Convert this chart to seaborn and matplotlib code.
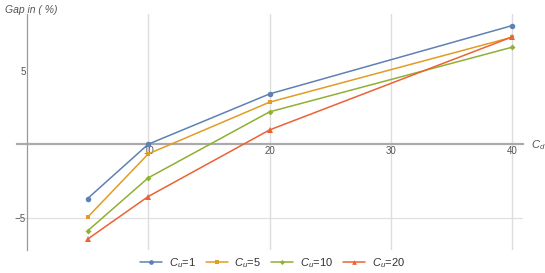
import matplotlib
matplotlib.use("Agg")
import matplotlib.pyplot as plt
import seaborn as sns
import pandas as pd

# Data
cd_values = [5, 10, 20, 40]
gap_cu1 = [-3.7, 0.0, 3.42, 8.07]
gap_cu5 = [-4.97, -0.66, 2.86, 7.28]
gap_cu10 = [-5.9, -2.29, 2.2, 6.6]
gap_cu20 = [-6.46, -3.56, 0.97, 7.3]
series_labels = ["$C_u$=1", "$C_u$=5", "$C_u$=10", "$C_u$=20"]
x_ticks = [10, 20, 30, 40]
y_ticks = [-5, 5]

series_values = [gap_cu1, gap_cu5, gap_cu10, gap_cu20]

sns.set_theme(style="white")
plt.rcParams["font.family"] = ["Liberation Sans", "DejaVu Sans"]
plt.rcParams["mathtext.fontset"] = "custom"
plt.rcParams["mathtext.it"] = "Liberation Sans:italic"
plt.rcParams["mathtext.rm"] = "Liberation Sans"

colors = ["#5E81B5", "#E19C24", "#8FB032", "#EB6235"]
markers = ["o", "s", "D", "^"]
msizes = [4.0, 3.4, 3.0, 4.0]

fig = plt.figure(figsize=(5.45, 2.73), dpi=100)
ax = fig.add_axes([17 / 545, 23 / 273, 506 / 545, 236 / 273])

for lab, vals, c, m, ms in zip(series_labels, series_values, colors, markers, msizes):
    d = pd.DataFrame({"Cd": cd_values, "Gap": vals})
    sns.lineplot(data=d, x="Cd", y="Gap", color=c, marker=m, markersize=ms,
                 markeredgewidth=0, linewidth=1.1, ax=ax, zorder=3, label=lab)
ax.get_legend().remove()

ax.set_xlim(-0.82, 40.9)
ax.set_ylim(-7.2, 8.86)

# Grid lines
for xv in x_ticks:
    ax.axvline(xv, color="#dddddd", lw=1.0, zorder=0)
ax.axhline(-5, color="#e0e0e0", lw=0.9, zorder=0)

# Axes through origin
for s in ["top", "right"]:
    ax.spines[s].set_visible(False)
ax.spines["left"].set_position(("data", 0))
ax.spines["bottom"].set_position(("data", 0))
ax.spines["left"].set_color("#9a9a9a")
ax.spines["bottom"].set_color("#aaaaaa")
ax.spines["left"].set_linewidth(0.9)
ax.spines["bottom"].set_linewidth(1.6)

ax.set_xticks(x_ticks)
ax.set_yticks(y_ticks)
ax.set_xticks(range(2, 41, 2), minor=True)
ax.set_yticks(range(-7, 9), minor=True)
ax.tick_params(axis="both", which="major", length=3, width=0.6, color="#aaaaaa",
               direction="in", labelsize=7, labelcolor="#555555", pad=1)
ax.tick_params(axis="both", which="minor", length=1.8, width=0.5, color="#bbbbbb",
               direction="in")
ax.set_yticklabels(["\u22125", "5"])
ax.set_xlabel("")
ax.set_ylabel("")

fig.text(5 / 545, 1 - 10 / 273, "Gap in ( %)", fontsize=7.5, style="italic",
         color="#555555", va="center", ha="left")
fig.text(531 / 545, 1 - 145 / 273, "$C_d$", fontsize=8, color="#555555",
         va="center", ha="left")

handles = [plt.Line2D([], [], color=c, marker=m, markersize=ms * 0.85, lw=1.1,
                      markeredgewidth=0)
           for c, m, ms in zip(colors, markers, msizes)]
fig.legend(handles, series_labels, loc="center", bbox_to_anchor=(0.5, 1 - 263 / 273),
           ncol=4, frameon=False, fontsize=8, handlelength=2.0, columnspacing=0.9,
           handletextpad=0.6, labelcolor="#333333")

fig.savefig("out.png", dpi=100)
